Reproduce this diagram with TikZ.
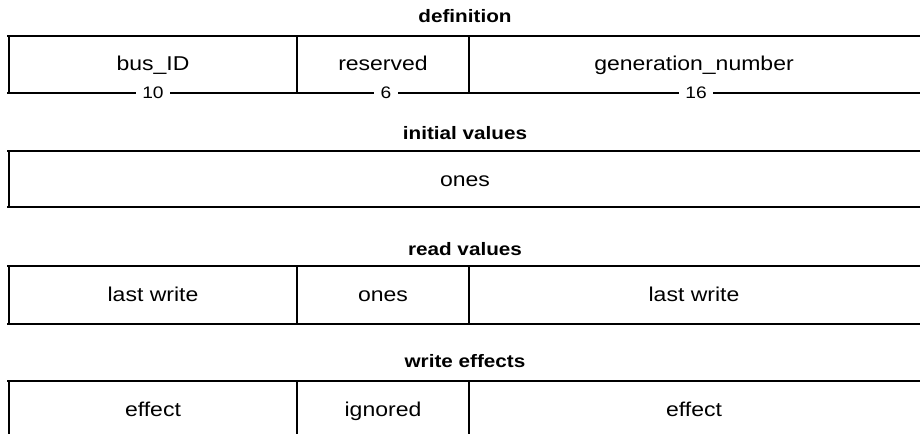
\documentclass[tikz,border=0pt]{standalone}
\usepackage{fontspec}
\setmainfont[FakeStretch=1.15]{Liberation Sans}
\begin{document}
\begin{tikzpicture}[x=0.75pt,y=-0.75pt,
    hline/.style={line width=1.4pt},
    vline/.style={line width=1.3pt},
    leftedge/.style={line width=0.8pt},
    title/.style={font=\fontsize{13.5}{15}\selectfont\bfseries, anchor=base},
    field/.style={font=\fontsize{15}{17}\selectfont, anchor=base},
    bits/.style={font=\fontsize{12.5}{14}\selectfont, fill=white, inner xsep=5pt, inner ysep=0pt}]
    \useasboundingbox (0,0) rectangle (920,434);

    \node[title] (defn) at (465,23) {definition};
    \draw[hline] (7,36) -- (920,36);
    \draw[hline] (7,93) -- (920,93);
    \draw[leftedge] (9,36) -- (9,93);
    \draw[vline] (297,36) -- (297,93);
    \draw[vline] (469,36) -- (469,93);
    \node[field] (busid) at (153,71) {bus\_ID};
    \node[field] (resv) at (383,71) {reserved};
    \node[field] (gen) at (694,71) {generation\_number};
    \node[bits] (w10) at (153,93) {10};
    \node[bits] (w6) at (386,93) {6};
    \node[bits] (w16) at (696,93) {16};

    \node[title] (init) at (465,140) {initial values};
    \draw[hline] (7,151) -- (920,151);
    \draw[hline] (7,207) -- (920,207);
    \draw[leftedge] (9,151) -- (9,207);
    \node[field] (initones) at (465,187) {ones};

    \node[title] (read) at (465,256) {read values};
    \draw[hline] (7,266) -- (920,266);
    \draw[hline] (7,324) -- (920,324);
    \draw[leftedge] (9,266) -- (9,324);
    \draw[vline] (297,266) -- (297,324);
    \draw[vline] (469,266) -- (469,324);
    \node[field] (readlast) at (153,302) {last write};
    \node[field] (readones) at (383,302) {ones};
    \node[field] (readgen) at (694,302) {last write};

    \node[title] (write) at (465,368) {write effects};
    \draw[hline] (7,381) -- (920,381);
    \draw[leftedge] (9,381) -- (9,434);
    \draw[vline] (297,381) -- (297,434);
    \draw[vline] (469,381) -- (469,434);
    \node[field] (wreff) at (153,416) {effect};
    \node[field] (wrign) at (383,416) {ignored};
    \node[field] (wrgen) at (694,416) {effect};
\end{tikzpicture}
\end{document}
